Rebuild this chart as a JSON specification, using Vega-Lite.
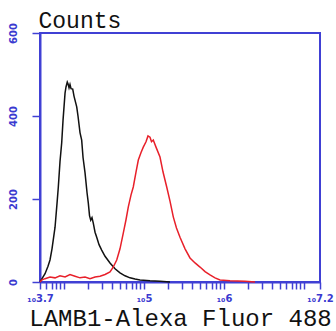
{
  "$schema": "https://vega.github.io/schema/vega-lite/v6.json",
  "width": 280,
  "height": 249,
  "autosize": {"type": "none"},
  "padding": {"left": 40, "top": 33, "right": 16, "bottom": 49},
  "background": "white",
  "config": {
    "view": {"stroke": "#4040d4", "strokeWidth": 2},
    "axis": {"grid": false, "domainColor": "#4040d4", "domainWidth": 2, "tickColor": "#4040d4", "tickWidth": 1.5, "labelColor": "#3a3ad0", "labelFont": "DejaVu Sans", "labelFontWeight": "bold", "labelFontSize": 10, "titleFont": "Liberation Mono", "titleFontWeight": "normal", "titleColor": "#111111"}
  },
  "datasets": {
    "hist": [
      {"ch": 3.700, "count": 0, "series": "control"},
      {"ch": 3.725, "count": 8, "series": "control"},
      {"ch": 3.763, "count": 20, "series": "control"},
      {"ch": 3.800, "count": 38, "series": "control"},
      {"ch": 3.825, "count": 53, "series": "control"},
      {"ch": 3.850, "count": 80, "series": "control"},
      {"ch": 3.888, "count": 132, "series": "control"},
      {"ch": 3.913, "count": 190, "series": "control"},
      {"ch": 3.929, "count": 229, "series": "control"},
      {"ch": 3.950, "count": 290, "series": "control"},
      {"ch": 3.971, "count": 335, "series": "control"},
      {"ch": 3.988, "count": 390, "series": "control"},
      {"ch": 4.013, "count": 455, "series": "control"},
      {"ch": 4.025, "count": 470, "series": "control"},
      {"ch": 4.041, "count": 482, "series": "control"},
      {"ch": 4.050, "count": 478, "series": "control"},
      {"ch": 4.063, "count": 468, "series": "control"},
      {"ch": 4.075, "count": 476, "series": "control"},
      {"ch": 4.088, "count": 466, "series": "control"},
      {"ch": 4.109, "count": 465, "series": "control"},
      {"ch": 4.125, "count": 448, "series": "control"},
      {"ch": 4.159, "count": 422, "series": "control"},
      {"ch": 4.175, "count": 400, "series": "control"},
      {"ch": 4.200, "count": 360, "series": "control"},
      {"ch": 4.221, "count": 342, "series": "control"},
      {"ch": 4.238, "count": 300, "series": "control"},
      {"ch": 4.263, "count": 263, "series": "control"},
      {"ch": 4.288, "count": 215, "series": "control"},
      {"ch": 4.304, "count": 190, "series": "control"},
      {"ch": 4.319, "count": 160, "series": "control"},
      {"ch": 4.334, "count": 149, "series": "control"},
      {"ch": 4.350, "count": 155, "series": "control"},
      {"ch": 4.366, "count": 142, "series": "control"},
      {"ch": 4.388, "count": 120, "series": "control"},
      {"ch": 4.409, "count": 108, "series": "control"},
      {"ch": 4.438, "count": 90, "series": "control"},
      {"ch": 4.471, "count": 77, "series": "control"},
      {"ch": 4.513, "count": 62, "series": "control"},
      {"ch": 4.575, "count": 46, "series": "control"},
      {"ch": 4.638, "count": 32, "series": "control"},
      {"ch": 4.700, "count": 22, "series": "control"},
      {"ch": 4.763, "count": 15, "series": "control"},
      {"ch": 4.825, "count": 10, "series": "control"},
      {"ch": 4.888, "count": 7, "series": "control"},
      {"ch": 4.950, "count": 5, "series": "control"},
      {"ch": 5.075, "count": 3, "series": "control"},
      {"ch": 5.200, "count": 2, "series": "control"},
      {"ch": 5.325, "count": 0, "series": "control"},
      {"ch": 3.700, "count": 0, "series": "LAMB1"},
      {"ch": 3.725, "count": 5, "series": "LAMB1"},
      {"ch": 3.763, "count": 8, "series": "LAMB1"},
      {"ch": 3.825, "count": 12, "series": "LAMB1"},
      {"ch": 3.888, "count": 10, "series": "LAMB1"},
      {"ch": 3.950, "count": 15, "series": "LAMB1"},
      {"ch": 4.013, "count": 12, "series": "LAMB1"},
      {"ch": 4.075, "count": 18, "series": "LAMB1"},
      {"ch": 4.138, "count": 14, "series": "LAMB1"},
      {"ch": 4.200, "count": 10, "series": "LAMB1"},
      {"ch": 4.263, "count": 12, "series": "LAMB1"},
      {"ch": 4.325, "count": 8, "series": "LAMB1"},
      {"ch": 4.388, "count": 12, "series": "LAMB1"},
      {"ch": 4.450, "count": 14, "series": "LAMB1"},
      {"ch": 4.513, "count": 18, "series": "LAMB1"},
      {"ch": 4.575, "count": 24, "series": "LAMB1"},
      {"ch": 4.613, "count": 35, "series": "LAMB1"},
      {"ch": 4.659, "count": 53, "series": "LAMB1"},
      {"ch": 4.700, "count": 80, "series": "LAMB1"},
      {"ch": 4.741, "count": 118, "series": "LAMB1"},
      {"ch": 4.775, "count": 150, "series": "LAMB1"},
      {"ch": 4.804, "count": 181, "series": "LAMB1"},
      {"ch": 4.838, "count": 210, "series": "LAMB1"},
      {"ch": 4.866, "count": 229, "series": "LAMB1"},
      {"ch": 4.900, "count": 265, "series": "LAMB1"},
      {"ch": 4.929, "count": 294, "series": "LAMB1"},
      {"ch": 4.963, "count": 312, "series": "LAMB1"},
      {"ch": 4.991, "count": 325, "series": "LAMB1"},
      {"ch": 5.025, "count": 338, "series": "LAMB1"},
      {"ch": 5.050, "count": 352, "series": "LAMB1"},
      {"ch": 5.075, "count": 349, "series": "LAMB1"},
      {"ch": 5.094, "count": 338, "series": "LAMB1"},
      {"ch": 5.116, "count": 342, "series": "LAMB1"},
      {"ch": 5.150, "count": 325, "series": "LAMB1"},
      {"ch": 5.200, "count": 301, "series": "LAMB1"},
      {"ch": 5.238, "count": 265, "series": "LAMB1"},
      {"ch": 5.284, "count": 229, "series": "LAMB1"},
      {"ch": 5.325, "count": 195, "series": "LAMB1"},
      {"ch": 5.366, "count": 157, "series": "LAMB1"},
      {"ch": 5.406, "count": 130, "series": "LAMB1"},
      {"ch": 5.450, "count": 108, "series": "LAMB1"},
      {"ch": 5.513, "count": 80, "series": "LAMB1"},
      {"ch": 5.575, "count": 58, "series": "LAMB1"},
      {"ch": 5.638, "count": 46, "series": "LAMB1"},
      {"ch": 5.700, "count": 36, "series": "LAMB1"},
      {"ch": 5.763, "count": 25, "series": "LAMB1"},
      {"ch": 5.825, "count": 17, "series": "LAMB1"},
      {"ch": 5.888, "count": 10, "series": "LAMB1"},
      {"ch": 5.950, "count": 5, "series": "LAMB1"},
      {"ch": 6.075, "count": 3, "series": "LAMB1"},
      {"ch": 6.263, "count": 2, "series": "LAMB1"},
      {"ch": 6.388, "count": 0, "series": "LAMB1"}
    ]
  },
  "data": {"name": "hist"},
  "mark": {"type": "line", "strokeWidth": 1.5, "interpolate": "linear"},
  "encoding": {
    "x": {
      "field": "ch", "type": "quantitative",
      "scale": {"domain": [3.7, 7.2], "nice": false, "zero": false},
      "axis": {
        "title": "LAMB1-Alexa Fluor 488", "titleFontSize": 24, "titlePadding": 3,
        "tickSize": 7, "labelPadding": 4, "labelOverlap": false, "labelFlush": false, "labelBound": false,
        "values": [3.7, 3.778, 3.845, 3.903, 3.954, 4, 4.301, 4.477, 4.602, 4.699, 4.778, 4.845, 4.903, 4.954, 5, 5.301, 5.477, 5.602, 5.699, 5.778, 5.845, 5.903, 5.954, 6, 6.301, 6.477, 6.602, 6.699, 6.778, 6.845, 6.903, 6.954, 7, 7.2],
        "labelExpr": "datum.value == 3.7 ? '₁₀3.7' : datum.value == 5 ? '₁₀5' : datum.value == 6 ? '₁₀6' : datum.value == 7.2 ? '₁₀7.2' : ''"
      }
    },
    "y": {
      "field": "count", "type": "quantitative",
      "scale": {"domain": [0, 600], "nice": false},
      "axis": {"title": "Counts", "titleAngle": 0, "titleFontSize": 23, "titleAlign": "left", "titleBaseline": "alphabetic", "titleX": -2, "titleY": -6, "values": [0, 200, 400, 600], "tickSize": 8, "labelAngle": -90, "labelAlign": "center", "labelBaseline": "bottom", "labelPadding": 14}
    },
    "color": {
      "field": "series", "type": "nominal",
      "scale": {"domain": ["control", "LAMB1"], "range": ["#111111", "#e8202a"]},
      "legend": null
    }
  }
}
